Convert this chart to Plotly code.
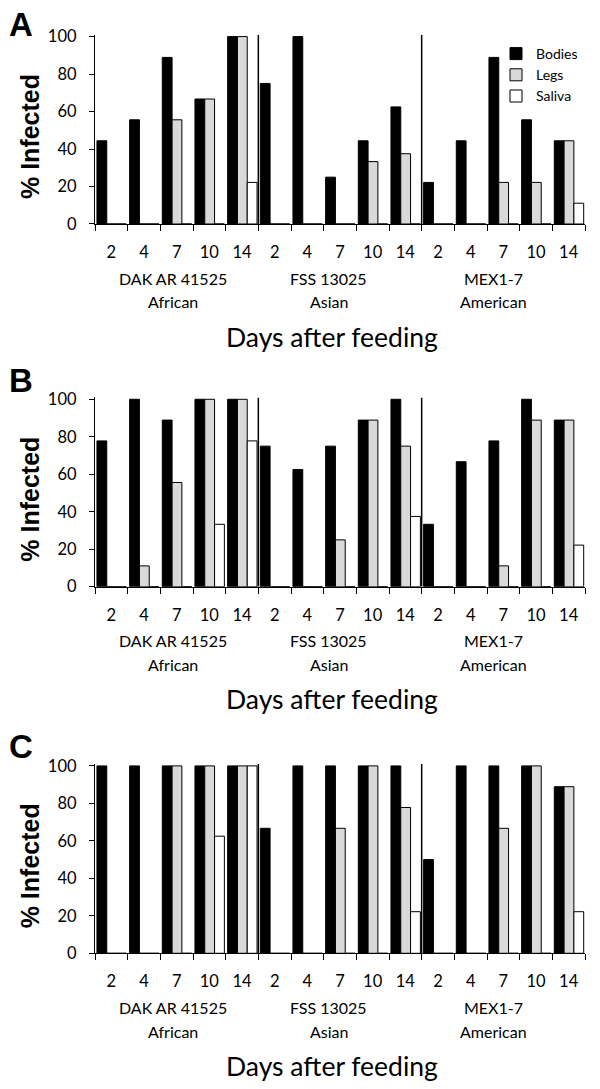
import plotly.graph_objects as go

# ---------------- data ----------------
days = ["2", "4", "7", "10", "14"]
strain_names = ["DAK AR 41525", "FSS 13025", "MEX1-7"]
lineages = ["African", "Asian", "American"]
panel_letters = ["A", "B", "C"]
series_names = ["Bodies", "Legs", "Saliva"]

bodies_A = [44.4, 55.6, 88.9, 66.7, 100, 75, 100, 25, 44.4, 62.5, 22.2, 44.4, 88.9, 55.6, 44.4]
legs_A = [0, 0, 55.6, 66.7, 100, 0, 0, 0, 33.3, 37.5, 0, 0, 22.2, 22.2, 44.4]
saliva_A = [0, 0, 0, 0, 22.2, 0, 0, 0, 0, 0, 0, 0, 0, 0, 11.1]

bodies_B = [77.8, 100, 88.9, 100, 100, 75, 62.5, 75, 88.9, 100, 33.3, 66.7, 77.8, 100, 88.9]
legs_B = [0, 11.1, 55.6, 100, 100, 0, 0, 25, 88.9, 75, 0, 0, 11.1, 88.9, 88.9]
saliva_B = [0, 0, 0, 33.3, 77.8, 0, 0, 0, 0, 37.5, 0, 0, 0, 0, 22.2]

bodies_C = [100, 100, 100, 100, 100, 66.7, 100, 100, 100, 100, 50, 100, 100, 100, 88.9]
legs_C = [0, 0, 100, 100, 100, 0, 0, 66.7, 100, 77.8, 0, 0, 66.7, 100, 88.9]
saliva_C = [0, 0, 0, 62.5, 100, 0, 0, 0, 0, 22.2, 0, 0, 0, 0, 22.2]

panels = [
    (bodies_A, legs_A, saliva_A),
    (bodies_B, legs_B, saliva_B),
    (bodies_C, legs_C, saliva_C),
]

# ---------------- layout constants ----------------
W, H = 600, 1089
X_LEFT, X_RIGHT = 95, 585
BASES = [224, 586.7, 953.3]          # pixel y of value 0 in each panel
PX_PER_UNIT = 187.4 / 100
YMAX = 101
LETTER_OFFS = [-200, -206, -207]
FONT = "Lato"
colors = ["#000000", "#d9d9d9", "#ffffff"]
offsets = [0.06, 0.36, 0.66]
bar_w = 0.3

def py(px):
    return 1 - px / H

def px_x(px):
    return px / W

n = len(days) * len(strain_names)
cat_x = list(range(n))

fig = go.Figure()
annotations = []
shapes = []

for p, series in enumerate(panels):
    ax = "" if p == 0 else str(p + 1)
    xref = "x" + ax
    yref = "y" + ax
    for s, vals in enumerate(series):
        fig.add_trace(go.Bar(
            x=cat_x, y=vals, name=series_names[s],
            offset=offsets[s], width=bar_w,
            marker=dict(color=colors[s], line=dict(color="black", width=1)),
            xaxis=xref, yaxis=yref,
            showlegend=(p == 0), legendgroup=series_names[s],
            hoverinfo="skip",
        ))
    base = BASES[p]
    top = base - YMAX * PX_PER_UNIT
    dom_y = [py(base), py(top)]
    xa = dict(
        domain=[px_x(X_LEFT), px_x(X_RIGHT)], range=[0, n],
        anchor=yref, automargin=False,
        tickmode="array",
        tickvals=[i + 0.5 for i in range(n)],
        ticktext=days * len(strain_names),
        ticks="", ticklen=0,
        ticklabelstandoff=13,
        minor=dict(tickmode="array", tickvals=list(range(n + 1)), ticks="outside",
                   ticklen=6, tickwidth=1.2, tickcolor="black"),
        showline=True, linecolor="black", linewidth=1.3,
        showgrid=False, zeroline=False, fixedrange=True,
        tickfont=dict(family=FONT, size=16.5, color="black"),
    )
    ya = dict(
        domain=dom_y, range=[0, YMAX], anchor=xref, automargin=False,
        tickmode="array", tickvals=[0, 20, 40, 60, 80, 100],
        ticks="outside", ticklen=5, tickwidth=1.2, tickcolor="black",
        ticklabelstandoff=9,
        showline=True, linecolor="black", linewidth=1.3,
        showgrid=False, zeroline=False, fixedrange=True,
        tickfont=dict(family=FONT, size=16.5, color="black"),
    )
    fig.update_layout(**{"xaxis" + ax: xa, "yaxis" + ax: ya})

    # separators between strains
    for xb in [len(days), 2 * len(days)]:
        shapes.append(dict(type="line", xref=xref, yref=yref, x0=xb, x1=xb,
                           y0=0, y1=YMAX, line=dict(color="black", width=1.5)))

    # strain labels
    group_x = [2.4, 7.15, 12.2]
    for g in range(len(strain_names)):
        annotations.append(dict(x=group_x[g], xref=xref, y=py(base + 54), yref="paper",
                                text=strain_names[g], showarrow=False,
                                font=dict(family=FONT, size=16, color="black"),
                                xanchor="center", yanchor="middle"))
        annotations.append(dict(x=group_x[g], xref=xref, y=py(base + 77.7), yref="paper",
                                text=lineages[g], showarrow=False,
                                font=dict(family=FONT, size=16, color="black"),
                                xanchor="center", yanchor="middle"))
    # x title
    annotations.append(dict(x=px_x(332), xref="paper", y=py(base + 112.7), yref="paper",
                            text="Days after feeding", showarrow=False,
                            font=dict(family=FONT, size=26.5, color="black"),
                            xanchor="center", yanchor="middle"))
    # y title
    annotations.append(dict(x=px_x(30), xref="paper", y=py(base - 87), yref="paper",
                            text="<b>% Infected</b>", showarrow=False, textangle=-90,
                            font=dict(family="Liberation Sans", size=25, color="black"),
                            xanchor="center", yanchor="middle"))
    # panel letter
    annotations.append(dict(x=px_x(21), xref="paper", y=py(base + LETTER_OFFS[p]), yref="paper",
                            text="<b>" + panel_letters[p] + "</b>", showarrow=False,
                            font=dict(family="Liberation Sans", size=33, color="black"),
                            xanchor="center", yanchor="middle"))

fig.update_layout(
    width=W, height=H,
    margin=dict(l=0, r=0, t=0, b=0, autoexpand=False),
    paper_bgcolor="white", plot_bgcolor="white",
    barmode="overlay",
    annotations=annotations, shapes=shapes,
    legend=dict(x=px_x(496), y=py(38), xanchor="left", yanchor="top",
                font=dict(family=FONT, size=14, color="black"),
                bgcolor="rgba(0,0,0,0)", tracegroupgap=0, itemwidth=30),
    showlegend=True,
)

fig.write_html("out.html",
               config={"displayModeBar": False},
               post_script="document.body.style.margin='0';document.body.style.overflow='hidden';")
